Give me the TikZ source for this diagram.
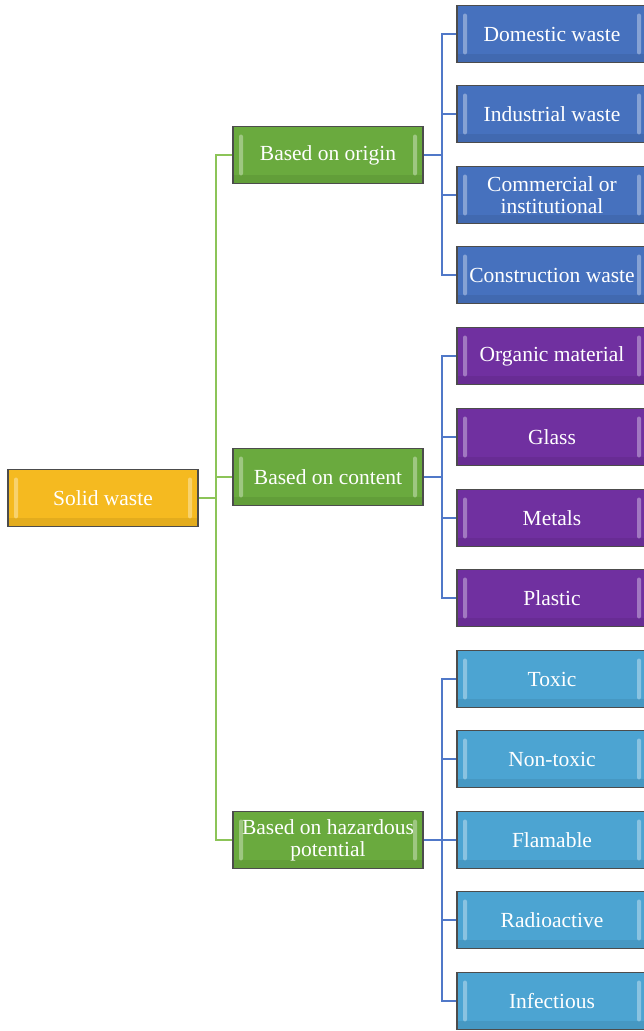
\documentclass[tikz,border=0pt]{standalone}
\usepackage{fontspec}
\setmainfont{Liberation Serif}
\usetikzlibrary{backgrounds}
\definecolor{cOrange}{RGB}{245,186,32}
\definecolor{cGreen}{RGB}{106,170,62}
\definecolor{cBlue}{RGB}{70,113,190}
\definecolor{cPurple}{RGB}{112,48,160}
\definecolor{cSky}{RGB}{76,164,210}
\definecolor{lnGreen}{RGB}{140,196,88}
\definecolor{lnBlue}{RGB}{80,120,200}
\tikzset{
  box/.style={draw=black!70, line width=1.2pt, fill=#1,
    minimum width=190pt, minimum height=57pt, inner sep=0pt,
    text=white, align=center, font=\fontsize{21.5}{22}\selectfont,
    path picture={
      \fill[white, opacity=.35, rounded corners=2pt]
        ([xshift=6pt,yshift=-8pt]path picture bounding box.north west)
        rectangle ([xshift=10pt,yshift=8pt]path picture bounding box.south west);
      \fill[white, opacity=.35, rounded corners=2pt]
        ([xshift=-6pt,yshift=-8pt]path picture bounding box.north east)
        rectangle ([xshift=-10pt,yshift=8pt]path picture bounding box.south east);
      \fill[black, opacity=.07]
        ([yshift=9pt]path picture bounding box.south west)
        rectangle (path picture bounding box.south east);
    }},
  gline/.style={draw=lnGreen, line width=2.2pt},
  bline/.style={draw=lnBlue, line width=2.2pt},
}
\begin{document}
\begin{tikzpicture}[x=1pt,y=-1pt]
\useasboundingbox (0,0) rectangle (644,1031);
\clip (0,0) rectangle (644,1031);

% root
\node[box=cOrange] (sw) at (103,498) {Solid waste};

% categories
\node[box=cGreen] (org) at (328,155) {Based on origin};
\node[box=cGreen] (con) at (328,477) {Based on content};
\node[box=cGreen] (haz) at (328,840) {Based on hazardous\\potential};

% by origin
\node[box=cBlue] (o1) at (552,34) {Domestic waste};
\node[box=cBlue] (o2) at (552,114) {Industrial waste};
\node[box=cBlue] (o3) at (552,195) {Commercial or\\institutional};
\node[box=cBlue] (o4) at (552,275) {Construction waste};

% by content
\node[box=cPurple] (c1) at (552,356) {Organic material};
\node[box=cPurple] (c2) at (552,437) {Glass};
\node[box=cPurple] (c3) at (552,518) {Metals};
\node[box=cPurple] (c4) at (552,598) {Plastic};

% by hazardous potential
\node[box=cSky] (h1) at (552,679) {Toxic};
\node[box=cSky] (h2) at (552,759) {Non-toxic};
\node[box=cSky] (h3) at (552,840) {Flamable};
\node[box=cSky] (h4) at (552,920) {Radioactive};
\node[box=cSky] (h5) at (552,1001) {Infectious};

% elbow connectors behind the boxes
\begin{scope}[on background layer]
\foreach \t in {org,con,haz}
  \draw[gline] (sw.east) -- ++(17,0) |- (\t.west);
\foreach \t in {o1,o2,o3,o4}
  \draw[bline] (org.east) -- ++(18,0) |- (\t.west);
\foreach \t in {c1,c2,c3,c4}
  \draw[bline] (con.east) -- ++(18,0) |- (\t.west);
\foreach \t in {h1,h2,h3,h4,h5}
  \draw[bline] (haz.east) -- ++(18,0) |- (\t.west);
\end{scope}
\end{tikzpicture}
\end{document}
